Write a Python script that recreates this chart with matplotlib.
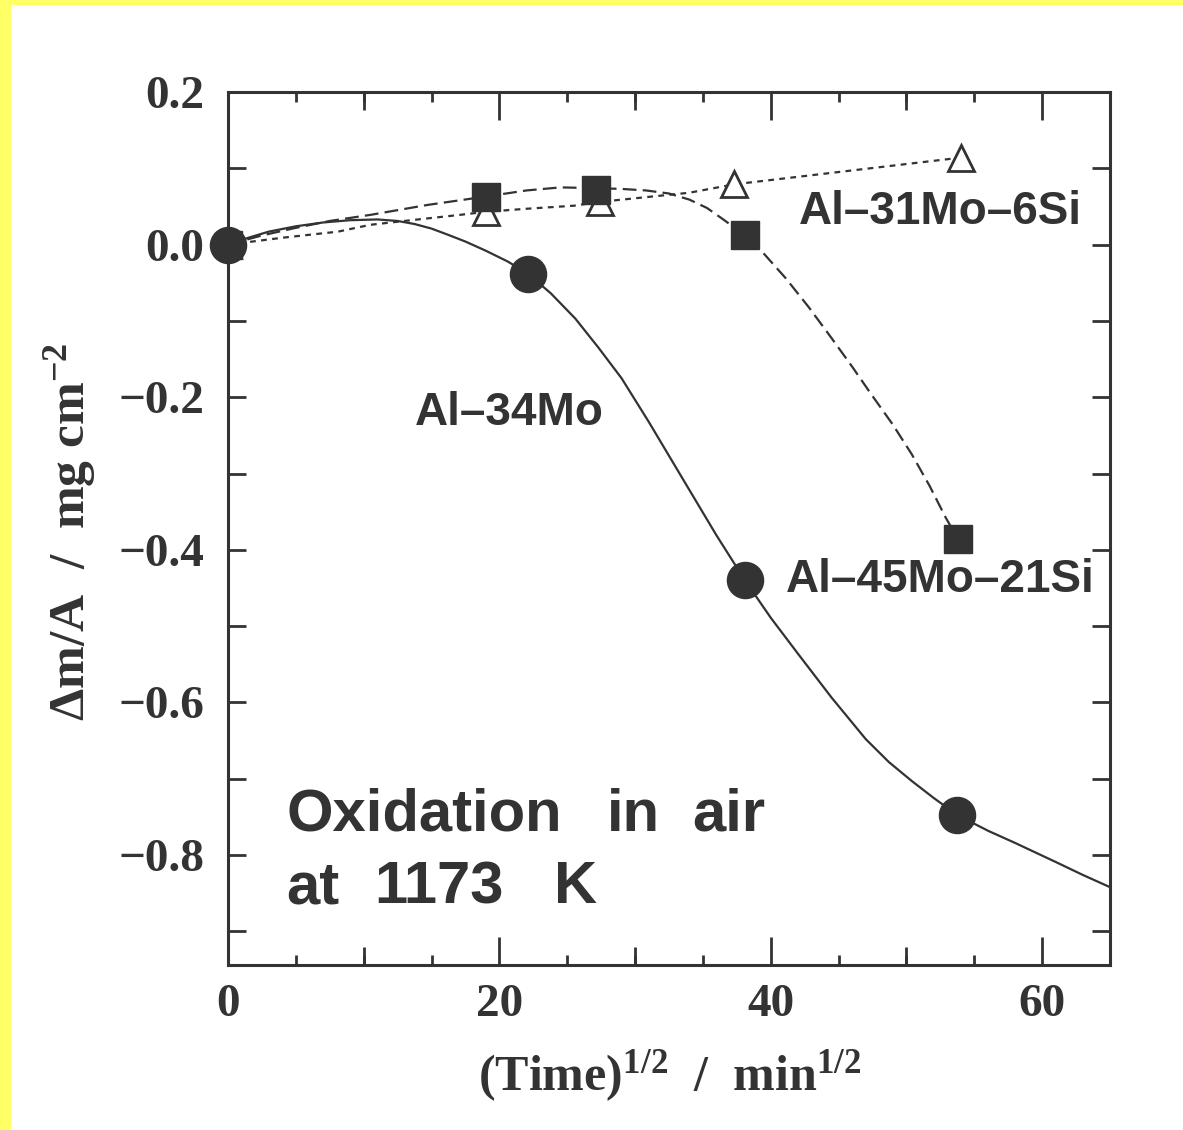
import matplotlib
matplotlib.use("Agg")
import matplotlib.pyplot as plt
from matplotlib.patches import Rectangle
import numpy as np

# ---------------- data ----------------
# measured points
al34_x = [0.0, 22.1, 38.1, 53.7]
al34_y = [0.0, -0.038, -0.440, -0.747]

al45_x = [0.0, 19.0, 27.1, 38.1, 53.8]
al45_y = [0.0, 0.063, 0.072, 0.012, -0.386]

al31_x = [0.0, 19.0, 27.4, 37.3, 54.0]
al31_y = [0.0, 0.043, 0.056, 0.079, 0.114]

# guide curves drawn through the points
al34_cx = [0, 1.5, 3, 5, 7, 9, 11, 12.5, 13.75, 15, 16.2, 17.5, 19, 20.6, 22.1,
           23.8, 25.6, 27.3, 29, 31, 33.75, 36, 38.1, 40, 42, 44.5, 47, 48.7,
           50.4, 52, 53.7, 56, 58, 61, 63, 65]
al34_cy = [0, 0.009, 0.017, 0.024, 0.029, 0.032, 0.033, 0.031, 0.027, 0.021,
           0.013, 0.004, -0.008, -0.022, -0.038, -0.064, -0.097, -0.135, -0.175,
           -0.232, -0.314, -0.381, -0.440, -0.489, -0.536, -0.594, -0.648,
           -0.678, -0.703, -0.725, -0.747, -0.768, -0.784, -0.809, -0.826, -0.842]

al45_cx = [0, 2.5, 5, 7.5, 10.5, 14.7, 19, 22, 24.5, 27.1, 29, 30.8, 32.5, 34,
           35.3, 36.5, 38.1, 39.5, 41.1, 42.8, 44.5, 46, 47.4, 49, 50.4, 51.7,
           52.9, 53.8]
al45_cy = [0, 0.012, 0.022, 0.031, 0.039, 0.052, 0.063, 0.071, 0.075, 0.074,
           0.073, 0.071, 0.067, 0.059, 0.048, 0.033, 0.012, -0.012, -0.044,
           -0.082, -0.123, -0.160, -0.196, -0.236, -0.275, -0.316, -0.358, -0.386]

al31_cx = [0, 4, 8.1, 10.5, 14, 17.1, 19, 22, 25.5, 27.4, 34, 37.3, 54]
al31_cy = [0, 0.009, 0.017, 0.026, 0.033, 0.039, 0.043, 0.047, 0.051, 0.056,
           0.068, 0.079, 0.114]

x_major = [0, 20, 40, 60]
x_mid = [10, 30, 50]
y_major = [-0.8, -0.6, -0.4, -0.2, 0.0, 0.2]

# ---------------- styling ----------------
INK = "#333333"
plt.rcParams["mathtext.fontset"] = "custom"
plt.rcParams["mathtext.rm"] = "Liberation Serif:bold"
plt.rcParams["mathtext.bf"] = "Liberation Serif:bold"
plt.rcParams["mathtext.default"] = "rm"

fig = plt.figure(figsize=(11.83, 11.30), dpi=100)
fig.patch.set_facecolor("white")
fig.patches.append(Rectangle((0, 0), 11 / 1183, 1, transform=fig.transFigure,
                             facecolor="#FFFF66", edgecolor="none", zorder=0))
fig.patches.append(Rectangle((0, 1 - 5 / 1130), 1, 5 / 1130, transform=fig.transFigure,
                             facecolor="#FFFF66", edgecolor="none", zorder=0))

L, R, T, B = 228 / 1183, 1110 / 1183, 1 - 92 / 1130, 1 - 965 / 1130
ax = fig.add_axes([L, B, R - L, T - B])
ax.set_xlim(0, 65)
ax.set_ylim(-0.944, 0.2)

lw = 1.6
ax.plot(al34_cx, al34_cy, color=INK, lw=lw, solid_joinstyle="round", zorder=2)
ax.plot(al45_cx, al45_cy, color=INK, lw=lw, dashes=(6.2, 2.8), zorder=2)
ax.plot(al31_cx, al31_cy, color=INK, lw=lw, dashes=(2.6, 2.4), zorder=2)

ax.plot(al31_x, al31_y, ls="none", marker="^", ms=19, mfc="white", mec=INK,
        mew=2.0, zorder=3)
ax.plot(al45_x, al45_y, ls="none", marker="s", ms=20, mfc=INK, mec=INK,
        mew=1.0, zorder=4)
ax.plot(al34_x, al34_y, ls="none", marker="o", ms=26, mfc=INK, mec=INK,
        mew=1.0, zorder=5, clip_on=False)

for s in ax.spines.values():
    s.set_linewidth(2.2)
    s.set_color(INK)

ax.set_xticks(x_major)
ax.set_xticks(np.arange(5, 65, 5), minor=True)
ax.set_yticks(y_major)
ax.set_yticks(np.arange(-0.9, 0.2, 0.2), minor=True)
ax.set_xticklabels([str(v) for v in x_major])
ax.set_yticklabels([("%.1f" % v).replace("-", "\u2212") if abs(v) > 1e-9 else "0.0"
                    for v in y_major])

ax.tick_params(axis="x", which="major", direction="in", length=20, width=2.0,
               top=True, bottom=True, color=INK, pad=14)
ax.tick_params(axis="x", which="minor", direction="in", length=7, width=2.0,
               top=True, bottom=True, color=INK)
ax.tick_params(axis="y", which="both", direction="in", length=13, width=2.0,
               left=True, right=True, color=INK, pad=17)

for lab in ax.get_xticklabels() + ax.get_yticklabels():
    lab.set_fontfamily("Liberation Serif")
    lab.set_fontweight("bold")
    lab.set_fontsize(34)
    lab.set_color(INK)

for loc in ("bottom", "top"):
    sec = ax.secondary_xaxis(loc)
    sec.set_xticks(x_mid)
    sec.tick_params(direction="in", length=13, width=2.0, color=INK,
                    labelbottom=False, labeltop=False)
    for s in sec.spines.values():
        s.set_visible(False)

# axis labels
fig.text(670 / 1183, 1 - 1076 / 1130,
         r"(Time)$^{\mathregular{1/2}}$  /  min$^{\mathregular{1/2}}$",
         family="Liberation Serif", weight="bold", fontsize=36, color=INK,
         ha="center", va="center")
fig.text(70 / 1183, 1 - 532 / 1130,
         r"$\Delta$m/A  /  mg cm$^{-2}$",
         family="Liberation Serif", weight="bold", fontsize=37, color=INK,
         ha="center", va="center", rotation=90)

# annotations
sans = dict(family="Liberation Sans", weight="bold", color=INK)
ax.text(13.75, -0.221, "Al\u201334Mo", fontsize=33, ha="left", va="center", **sans)
ax.text(42.1, 0.043, "Al\u201331Mo\u20136Si", fontsize=33, ha="left", va="center", **sans)
ax.text(41.1, -0.44, "Al\u201345Mo\u201321Si", fontsize=33, ha="left", va="center", **sans)

words = [("Oxidation", 4.3, -0.748), ("in", 27.9, -0.748), ("air", 34.2, -0.748),
         ("at", 4.3, -0.843), ("1173", 10.8, -0.843), ("K", 24.0, -0.843)]
for w, wx, wy in words:
    ax.text(wx, wy, w, fontsize=43, ha="left", va="center", **sans)

fig.savefig("out.png", dpi=100, facecolor=fig.get_facecolor())
